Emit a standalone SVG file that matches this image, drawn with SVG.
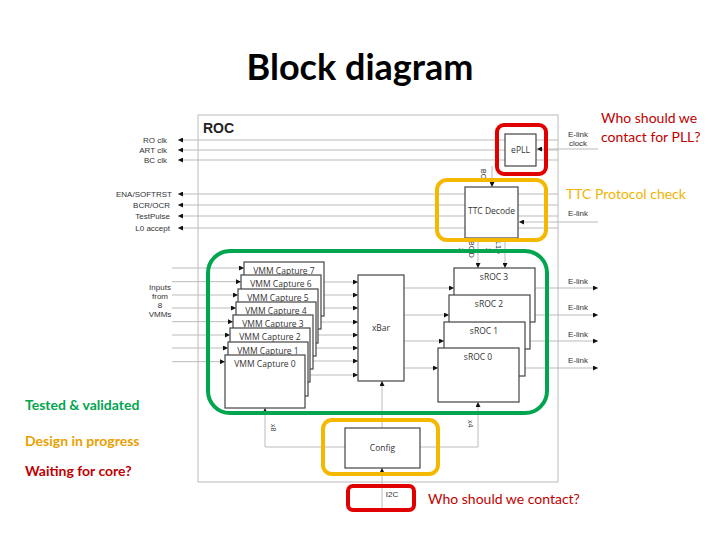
<svg xmlns="http://www.w3.org/2000/svg" width="720" height="540" viewBox="0 0 720 540">
<defs>
<marker id="a" viewBox="0 0 6 6" refX="6" refY="3" markerWidth="5" markerHeight="5" orient="auto"><path d="M0,0L6,3L0,6z" fill="#111"/></marker>
<style>
.la{stroke:#bbb;stroke-width:1;fill:none;marker-end:url(#a)}
.b{fill:#fff;stroke:#444;stroke-width:1.2}
.t{font-family:"Liberation Sans",Arial,sans-serif;font-size:8px;fill:#333}
.c{font-family:"Open Sans",sans-serif;font-size:8.5px;fill:#333;text-anchor:middle}
.n{font-family:Lato,"Liberation Sans",sans-serif;font-size:14px}
</style>
</defs>
<rect width="720" height="540" fill="#fff"/>
<text x="360" y="80" text-anchor="middle" font-family="Lato,'Liberation Sans',sans-serif" font-size="36" font-weight="bold" fill="#000">Block diagram</text>
<rect x="198" y="115" width="360" height="367" fill="none" stroke="#bbb"/>
<text x="203" y="133" font-family="'Liberation Sans',Arial,sans-serif" font-size="14" font-weight="bold" fill="#222">ROC</text>
<g id="connectors">
<path class="la" d="M558,140H178"/><path class="la" d="M558,150H178"/><path class="la" d="M558,160H178"/>
<path class="la" d="M558,194H178"/><path class="la" d="M558,205H178"/><path class="la" d="M558,216H178"/><path class="la" d="M558,228H178"/>
<path class="la" d="M598,149H537"/><path class="la" d="M598,222H519"/><path class="la" d="M492,166V187"/>
<path class="la" d="M478,238V268"/><path class="la" d="M505,238V268"/>
<path class="la" d="M172,268H244"/><path class="la" d="M172,281.7H241"/><path class="la" d="M172,295H238"/><path class="la" d="M172,308H236"/>
<path class="la" d="M172,321.7H233"/><path class="la" d="M172,335H230"/><path class="la" d="M172,348H228"/><path class="la" d="M172,361.7H225"/>
<path class="la" d="M324,282H358"/><path class="la" d="M321,295H358"/><path class="la" d="M318,308H358"/><path class="la" d="M316,322H358"/>
<path class="la" d="M313,335H358"/><path class="la" d="M310,348H358"/><path class="la" d="M308,361H358"/><path class="la" d="M305,375H358"/>
<path class="la" d="M404,288H454"/><path class="la" d="M404,315H449"/><path class="la" d="M404,341H444"/><path class="la" d="M404,368H438"/>
<path class="la" d="M535,288H598"/><path class="la" d="M530,315H598"/><path class="la" d="M525,341H598"/><path class="la" d="M519,368H598"/>
<path class="la" d="M382,428V381"/><path class="la" d="M345,447H265V408"/><path class="la" d="M420,447H478V402"/><path class="la" d="M382,510V468"/>
</g>
<g class="t">
<text x="167" y="143" text-anchor="end">RO clk</text>
<text x="167" y="153" text-anchor="end">ART clk</text>
<text x="167" y="163" text-anchor="end">BC clk</text>
<text x="172" y="197" text-anchor="end">ENA/SOFTRST</text>
<text x="170" y="208" text-anchor="end">BCR/OCR</text>
<text x="170" y="219" text-anchor="end">TestPulse</text>
<text x="170" y="231" text-anchor="end">L0 accept</text>
<text x="160" y="290" text-anchor="middle">Inputs</text>
<text x="160" y="299" text-anchor="middle">from</text>
<text x="160" y="308" text-anchor="middle">8</text>
<text x="160" y="317" text-anchor="middle">VMMs</text>
<text x="578" y="137" text-anchor="middle">E-link</text>
<text x="578" y="146" text-anchor="middle">clock</text>
<text x="578" y="216" text-anchor="middle">E-link</text>
<text x="578" y="284" text-anchor="middle">E-link</text>
<text x="578" y="310" text-anchor="middle">E-link</text>
<text x="578" y="337" text-anchor="middle">E-link</text>
<text x="578" y="363" text-anchor="middle">E-link</text>
<text x="392" y="497" text-anchor="middle">I2C</text>
<text transform="translate(481,169) rotate(90)" font-size="7">BC</text>
<text transform="translate(469,241) rotate(90)" font-size="7">BCID</text>
<text transform="translate(459,248) rotate(90)" font-size="7">x</text>
<text transform="translate(496,241) rotate(90)" font-size="7">L1D</text>
<text transform="translate(486,248) rotate(90)" font-size="7">x</text>
<text transform="translate(271,424) rotate(90)" font-size="7">x8</text>
<text transform="translate(468,420) rotate(90)" font-size="7">x4</text>
</g>
<g id="ePLL"><rect class="b" x="505" y="134" width="31" height="32"/><text class="c" x="520.5" y="153">ePLL</text></g>
<g id="ttc"><rect class="b" x="465" y="187" width="53" height="51"/><text class="c" x="491.5" y="214">TTC Decode</text></g>
<g id="vmm">
<rect class="b" x="244" y="262" width="80" height="54"/><text class="c" x="284" y="274">VMM Capture 7</text>
<rect class="b" x="241" y="275" width="80" height="54"/><text class="c" x="281" y="287">VMM Capture 6</text>
<rect class="b" x="238" y="289" width="80" height="54"/><text class="c" x="278" y="301">VMM Capture 5</text>
<rect class="b" x="236" y="302" width="80" height="54"/><text class="c" x="276" y="314">VMM Capture 4</text>
<rect class="b" x="233" y="315" width="80" height="54"/><text class="c" x="273" y="327">VMM Capture 3</text>
<rect class="b" x="230" y="328" width="80" height="54"/><text class="c" x="270" y="340">VMM Capture 2</text>
<rect class="b" x="228" y="342" width="80" height="54"/><text class="c" x="268" y="354">VMM Capture 1</text>
<rect class="b" x="225" y="355" width="80" height="53"/><text class="c" x="265" y="367">VMM Capture 0</text>
</g>
<g id="xbar"><rect class="b" x="358" y="275" width="46" height="106"/><text class="c" x="381" y="331">xBar</text></g>
<g id="sroc">
<rect class="b" x="454" y="268" width="81" height="54"/><text class="c" x="494" y="280">sROC 3</text>
<rect class="b" x="449" y="295" width="81" height="54"/><text class="c" x="489" y="307">sROC 2</text>
<rect class="b" x="444" y="322" width="81" height="54"/><text class="c" x="484" y="334">sROC 1</text>
<rect class="b" x="438" y="348" width="81" height="54"/><text class="c" x="478" y="360">sROC 0</text>
</g>
<g id="config"><rect class="b" x="345" y="428" width="75" height="40"/><text class="c" x="382.5" y="451">Config</text></g>
<g fill="none" stroke-width="4">
<rect x="497" y="125" width="49" height="49" rx="7" stroke="#e00000"/>
<rect x="437" y="180" width="109" height="60" rx="10" stroke="#f5b800"/>
<rect x="208" y="251" width="339" height="162" rx="22" stroke="#00a550"/>
<rect x="323" y="420" width="115" height="54" rx="9" stroke="#f5b800"/>
<rect x="348" y="486" width="66" height="24" rx="5" stroke="#e00000"/>
</g>
<g class="n">
<text x="601" y="123" fill="#c00000">Who should we</text>
<text x="601" y="142" fill="#c00000">contact for PLL?</text>
<text x="566" y="199" fill="#f0b400">TTC Protocol check</text>
<text x="428" y="504" fill="#c00000">Who should we contact?</text>
<text x="25" y="410" fill="#00a550" font-weight="bold">Tested &amp; validated</text>
<text x="25" y="446" fill="#e8a000" font-weight="bold">Design in progress</text>
<text x="25" y="476" fill="#c00000" font-weight="bold">Waiting for core?</text>
</g>
</svg>
